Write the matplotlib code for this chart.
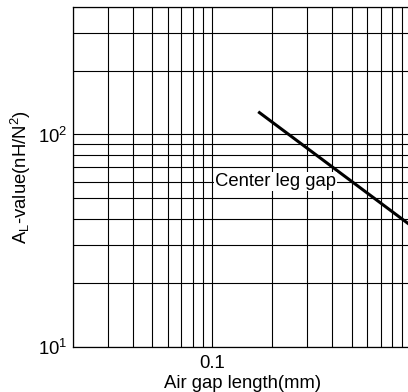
import numpy as np
import matplotlib.pyplot as plt
from matplotlib.ticker import FixedLocator, FixedFormatter, NullFormatter, LogLocator

plt.rcParams['font.family'] = ['Liberation Sans', 'DejaVu Sans']

# Данные кривой (читаются с графика)
gap_mm = [0.17, 1.0]
al_value = [128, 37]

x_min, x_max = 0.02, 1.0
y_min, y_max = 10, 400

fs = 13.3

fig = plt.figure(figsize=(4.08, 3.92), dpi=100)
ax = fig.add_axes([73 / 408, 45.3 / 392, 338.6 / 408, 340 / 392])

ax.set_xscale('log')
ax.set_yscale('log')
ax.set_xlim(x_min, x_max)
ax.set_ylim(y_min, y_max)

# сетка
ax.xaxis.set_major_locator(FixedLocator([0.1]))
ax.xaxis.set_major_formatter(FixedFormatter(['0.1']))
ax.xaxis.set_minor_locator(LogLocator(base=10, subs=np.arange(2, 10)))
ax.xaxis.set_minor_formatter(NullFormatter())
ax.yaxis.set_major_locator(FixedLocator([10, 100]))
ax.yaxis.set_major_formatter(FixedFormatter([r'$\mathregular{10^1}$', r'$\mathregular{10^2}$']))
ax.yaxis.set_minor_locator(LogLocator(base=10, subs=np.arange(2, 10)))
ax.yaxis.set_minor_formatter(NullFormatter())
ax.grid(True, which='both', color='black', lw=0.8)
ax.tick_params(axis='y', which='both', length=0, labelsize=fs, pad=4)
ax.tick_params(axis='x', which='both', length=0, labelsize=fs, pad=6)
for s in ax.spines.values():
    s.set_linewidth(0.9)

ax.plot(gap_mm, al_value, color='black', lw=2.2, solid_capstyle='butt', zorder=3)

ax.text(0.2074, 60, 'Center leg gap', fontsize=fs, ha='center', va='center',
        bbox=dict(facecolor='white', edgecolor='none', pad=0.5), zorder=4)

ax.set_xlabel('Air gap length(mm)', fontsize=fs, labelpad=2)
ax.set_ylabel(r'A$\mathregular{_L}$-value(nH/N$\mathregular{^2}$)', fontsize=fs, labelpad=4)

fig.savefig('out.png', dpi=100)
